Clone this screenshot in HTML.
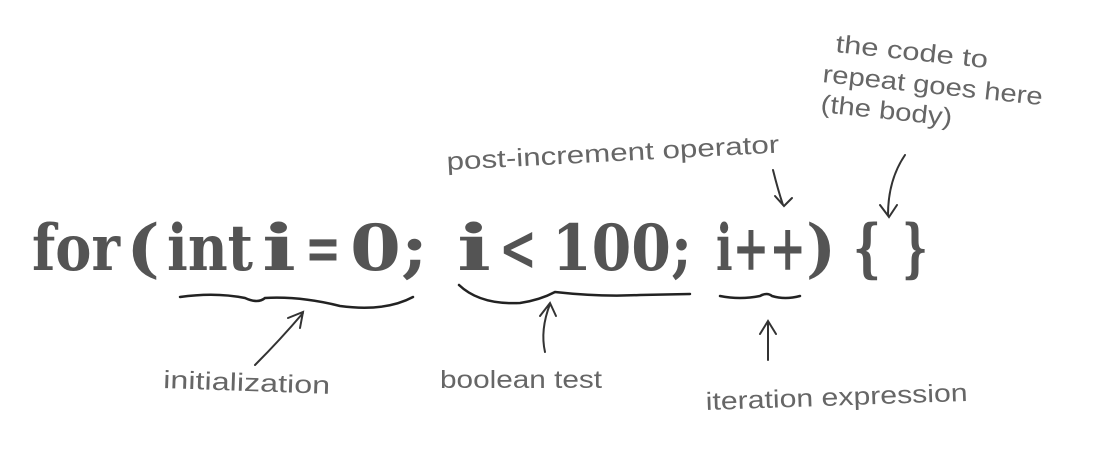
<!DOCTYPE html>
<html><head><style>
html,body{margin:0;padding:0;background:#fff;}
svg{display:block}
.m{font-family:"DejaVu Serif","Liberation Serif",serif;font-weight:bold;fill:#545454;font-size:64px}
.h{font-family:"Liberation Sans","DejaVu Sans",sans-serif;fill:#666;font-size:25px}
.c{fill:none;stroke:#222;stroke-width:2.5;stroke-linecap:round}
.a{fill:none;stroke:#333;stroke-width:2;stroke-linecap:round}
</style></head><body>
<svg width="1105" height="474" viewBox="0 0 1105 474">
<text class="m" x="32" y="270" textLength="88" lengthAdjust="spacingAndGlyphs">for</text>
<text class="m" x="126" y="270" textLength="34" lengthAdjust="spacingAndGlyphs">(</text>
<text class="m" x="167" y="270" textLength="86" lengthAdjust="spacingAndGlyphs">int</text>
<text class="m" x="262" y="270" textLength="34" lengthAdjust="spacingAndGlyphs">i</text>
<text class="m" x="305" y="270" textLength="36" lengthAdjust="spacingAndGlyphs">=</text>
<text class="m" x="350" y="270" textLength="78" lengthAdjust="spacingAndGlyphs">0;</text>
<text class="m" x="457" y="270" textLength="34" lengthAdjust="spacingAndGlyphs">i</text>
<text class="m" x="499" y="270" textLength="38" lengthAdjust="spacingAndGlyphs">&lt;</text>
<text class="m" x="552" y="270" textLength="140" lengthAdjust="spacingAndGlyphs">100;</text>
<text class="m" x="716" y="270" textLength="90" lengthAdjust="spacingAndGlyphs">i++</text>
<text class="m" x="806" y="270" textLength="30" lengthAdjust="spacingAndGlyphs">)</text>
<text class="m" x="853" y="270" textLength="28" lengthAdjust="spacingAndGlyphs">{</text>
<text class="m" x="902" y="270" textLength="26" lengthAdjust="spacingAndGlyphs">}</text>

<path class="c" d="M180 297 Q215 292 245 298 Q258 304 265 298 Q300 296 340 306 Q385 312 413 297"/>
<path class="c" d="M459 285 Q480 305 520 303 Q540 300 555 292 Q600 297 640 295 L690 294"/>
<path class="c" d="M720 296 Q740 300 760 296 Q767 292 772 296 Q785 300 800 296"/>

<path class="a" d="M255 365 Q280 340 303 313 M288 318 L303 312 L300 328"/>
<path class="a" d="M545 352 Q540 330 550 304 M540 316 L550 303 L556 316"/>
<path class="a" d="M768 360 L768 322 M760 334 L768 321 L776 334"/>
<path class="a" d="M773 170 Q778 190 783 205 M775 196 L784 206 L792 198"/>
<path class="a" d="M905 155 Q888 180 888 215 M880 205 L889 217 L897 205"/>

<text class="h" x="163" y="388" transform="rotate(2 163 388)" textLength="167" lengthAdjust="spacingAndGlyphs">initialization</text>
<text class="h" x="440" y="388" textLength="162" lengthAdjust="spacingAndGlyphs">boolean test</text>
<text class="h" x="706" y="410" transform="rotate(-2 706 410)" textLength="262" lengthAdjust="spacingAndGlyphs">iteration expression</text>
<text class="h" x="447" y="170" transform="rotate(-3 447 170)" textLength="333" lengthAdjust="spacingAndGlyphs">post-increment operator</text>
<text class="h" x="835" y="52" transform="rotate(6 835 52)" textLength="153" lengthAdjust="spacingAndGlyphs">the code to</text>
<text class="h" x="822" y="82" transform="rotate(6 822 82)" textLength="221" lengthAdjust="spacingAndGlyphs">repeat goes here</text>
<text class="h" x="820" y="112" transform="rotate(6 820 112)" textLength="132" lengthAdjust="spacingAndGlyphs">(the body)</text>
</svg>
</body></html>
